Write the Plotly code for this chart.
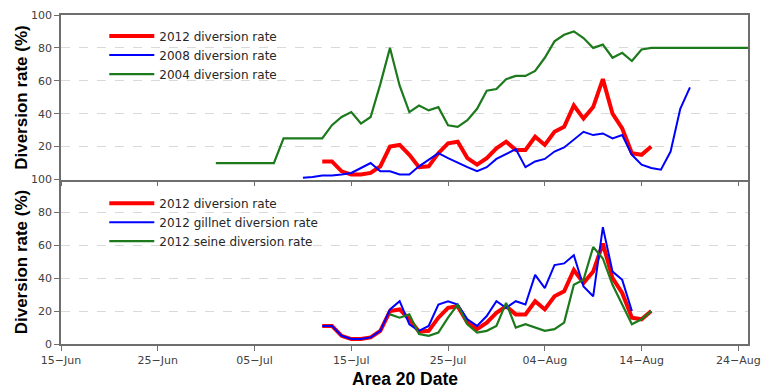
import pandas as pd
import plotly.graph_objects as go
from plotly.subplots import make_subplots

# ---- data (daily diversion rates, %) ----
start_2012 = "2012-07-12"
rate_2012 = [11, 11, 5, 3, 3, 4, 8,
             20, 21, 15, 7.5, 8, 16, 22, 23, 13, 9,
             13, 19, 23, 18, 18, 26, 21, 29, 32, 45,
             37, 44, 61, 40, 31, 16, 15, 20]

start_2008 = "2012-07-10"
rate_2008 = [1, 1.5, 2.5, 2.5, 3, 4, 7, 10, 5, 5,
             3, 3, 8, 12, 16, 13, 10, 7.5, 5, 7.5,
             12.5, 15.5, 18.5, 7.5, 11, 12.5, 17, 19.5, 24, 29,
             27, 28, 25, 27, 15, 9, 7, 6, 17, 43,
             56]

start_2004 = "2012-07-01"
rate_2004 = [10, 10, 10, 10, 10, 10, 10,
             25, 25, 25, 25, 25,
             33, 38, 41, 34, 38, 58, 80, 57, 41, 45,
             42, 44, 33, 32, 36, 43, 54, 55, 61, 63,
             63, 66, 74, 84, 88, 90, 86, 80, 82, 74,
             77, 72, 79, 80,
             80, 80, 80, 80, 80, 80, 80, 80, 80, 80]

start_gillnet = "2012-07-12"
rate_gillnet = [11, 11, 5, 3, 3, 4, 8,
                21, 26, 12, 8, 11, 24, 26, 24, 15, 11,
                17, 26, 22, 26, 24, 42, 34, 48, 49, 54,
                35, 29, 71, 44, 39, 20]

start_seine = "2012-07-19"
rate_seine = [18, 16, 18, 6, 5, 7, 16, 24, 12, 7,
              8, 11, 25, 10, 12, 10, 8, 9, 13, 36,
              39, 59, 52, 36, 24, 12, 15, 20]

tick_dates = ["2012-06-15", "2012-06-25", "2012-07-05", "2012-07-15",
              "2012-07-25", "2012-08-04", "2012-08-14", "2012-08-24"]
tick_labels = ["15\u2212Jun", "25\u2212Jun", "05\u2212Jul", "15\u2212Jul",
               "25\u2212Jul", "04\u2212Aug", "14\u2212Aug", "24\u2212Aug"]


def days(start, values):
    return pd.date_range(start, periods=len(values), freq="D")


RED, BLUE, GREEN = "#ff0000", "#0000ff", "#1c7a1c"
FONT = "Liberation Sans, Arial, sans-serif"
LABEL_FONT = "DejaVu Sans, Verdana, sans-serif"

fig = make_subplots(rows=2, cols=1, shared_xaxes=True, vertical_spacing=0)

# upper panel: 2012 vs 2008 vs 2004
fig.add_trace(go.Scatter(x=days(start_2012, rate_2012), y=rate_2012, mode="lines",
                         line=dict(color=RED, width=4), name="2012 diversion rate",
                         legend="legend"), row=1, col=1)
fig.add_trace(go.Scatter(x=days(start_2008, rate_2008), y=rate_2008, mode="lines",
                         line=dict(color=BLUE, width=2), name="2008 diversion rate",
                         legend="legend"), row=1, col=1)
fig.add_trace(go.Scatter(x=days(start_2004, rate_2004), y=rate_2004, mode="lines",
                         line=dict(color=GREEN, width=2.2), name="2004 diversion rate",
                         legend="legend"), row=1, col=1)

# lower panel: 2012 overall vs gear type
fig.add_trace(go.Scatter(x=days(start_2012, rate_2012), y=rate_2012, mode="lines",
                         line=dict(color=RED, width=4), name="2012 diversion rate",
                         legend="legend2"), row=2, col=1)
fig.add_trace(go.Scatter(x=days(start_gillnet, rate_gillnet), y=rate_gillnet, mode="lines",
                         line=dict(color=BLUE, width=2), name="2012 gillnet diversion rate",
                         legend="legend2"), row=2, col=1)
fig.add_trace(go.Scatter(x=days(start_seine, rate_seine), y=rate_seine, mode="lines",
                         line=dict(color=GREEN, width=2.2), name="2012 seine diversion rate",
                         legend="legend2"), row=2, col=1)

axis_common = dict(showline=True, linecolor="#6e6e6e", linewidth=1.5,
                   ticks="outside", ticklen=5, tickcolor="#6e6e6e", tickwidth=1,
                   tickfont=dict(family=LABEL_FONT, size=11, color="#404040"),
                   ticklabeloverflow="allow")

xcommon = dict(axis_common, type="date", range=["2012-06-15", "2012-08-25"],
               tickvals=tick_dates, ticktext=tick_labels, showgrid=False, zeroline=False)
# upper panel has a frame line on top; the shared boundary is drawn once
fig.update_xaxes(xcommon, row=1, col=1, showticklabels=False, mirror=True)
fig.update_xaxes(xcommon, row=2, col=1, showticklabels=True, mirror=False)

ycommon = dict(axis_common, range=[0, 100], showgrid=True, gridcolor="#d9d9d9",
               griddash="dash", gridwidth=1, zeroline=False, mirror=True)
fig.update_yaxes(ycommon, row=1, col=1, tickvals=[20, 40, 60, 80, 100])
fig.update_yaxes(ycommon, row=2, col=1, tickvals=[0, 20, 40, 60, 80, 100])

legend_style = dict(xanchor="left", yanchor="top", bgcolor="rgba(0,0,0,0)",
                    font=dict(family=LABEL_FONT, size=12, color="#262626"),
                    itemwidth=45, tracegroupgap=0)

fig.update_layout(
    width=770, height=390,
    margin=dict(l=61, r=12, t=9, b=46),
    paper_bgcolor="white", plot_bgcolor="white",
    font=dict(family=FONT),
    legend=dict(legend_style, x=0.063, y=0.98),
    legend2=dict(legend_style, x=0.063, y=0.472),
    showlegend=True,
)

# axis titles
for yc in (0.75, 0.25):
    fig.add_annotation(text="Diversion rate (%)", xref="paper", yref="paper",
                       x=-0.0574, y=yc, xanchor="center", yanchor="middle",
                       textangle=-90, showarrow=False,
                       font=dict(family=FONT, size=17, color="#000000", weight="bold"))
fig.add_annotation(text="Area 20 Date", xref="paper", yref="paper",
                   x=0.5, y=-0.105, xanchor="center", yanchor="middle",
                   showarrow=False,
                   font=dict(family=FONT, size=17.5, color="#000000", weight="bold"))

fig.write_html("out.html")
